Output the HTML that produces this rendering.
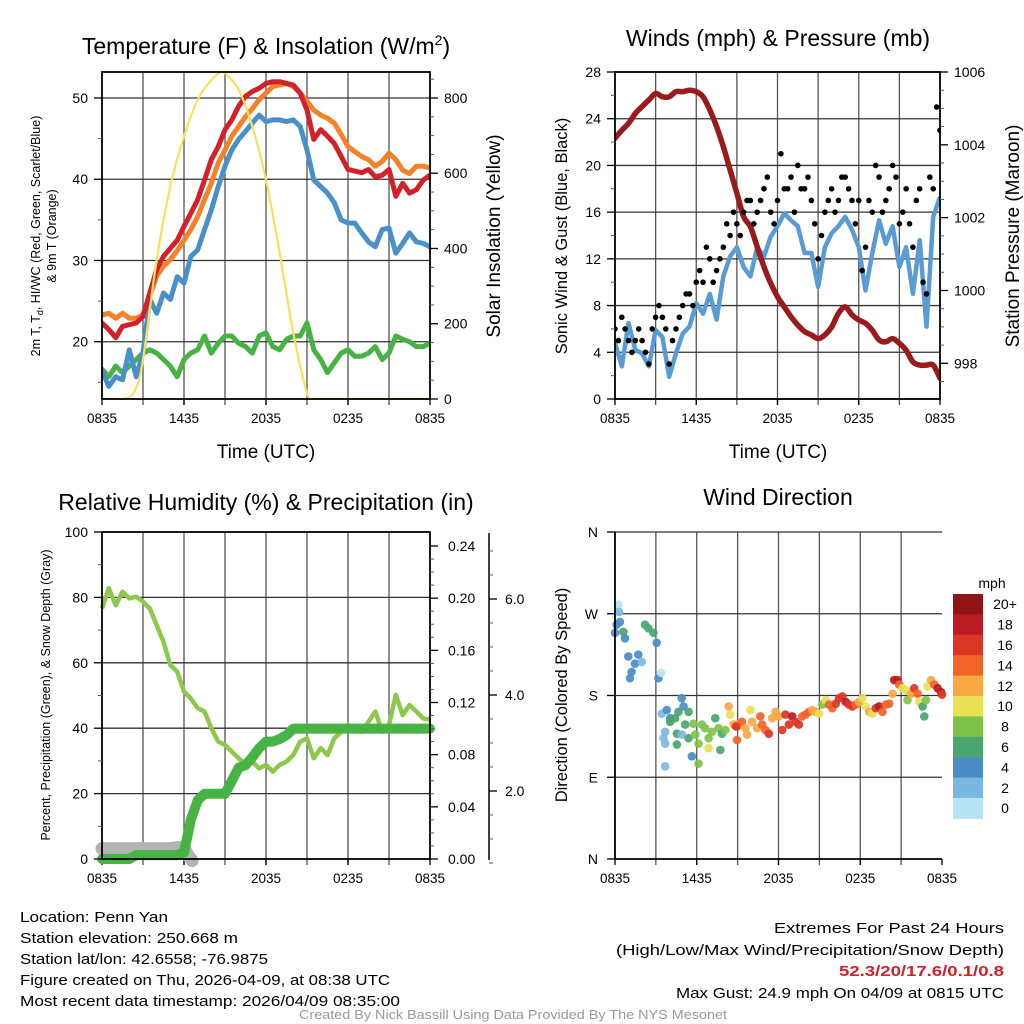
<!DOCTYPE html>
<html><head><meta charset="utf-8"><style>
html,body{margin:0;padding:0;background:#fff;}
svg{display:block;font-family:"Liberation Sans",sans-serif;}
</style></head><body>
<svg id="fig" width="1024" height="1024" viewBox="0 0 1024 1024" xmlns="http://www.w3.org/2000/svg">
<rect width="1024" height="1024" fill="#fff"/>
<g id="p1"></g>
<g id="p2"></g>
<g id="p3"></g>
<g id="p4"></g>
<g fill="#000">
<text x="266" y="54" font-size="23" text-anchor="middle">Temperature (F) &amp; Insolation (W/m<tspan font-size="14" dy="-9">2</tspan><tspan dy="9">)</tspan></text>
<text x="778" y="46" font-size="23" text-anchor="middle">Winds (mph) &amp; Pressure (mb)</text>
<text x="266" y="510" font-size="23" text-anchor="middle">Relative Humidity (%) &amp; Precipitation (in)</text>
<text x="778" y="505" font-size="23" text-anchor="middle">Wind Direction</text>
<text x="266" y="458" font-size="19" text-anchor="middle">Time (UTC)</text>
<text x="778" y="458" font-size="19" text-anchor="middle">Time (UTC)</text>
<text font-size="12.5" text-anchor="middle" transform="translate(40,236) rotate(-90)">2m T, T<tspan font-size="9" dy="3">d</tspan><tspan dy="-3">, HI/WC (Red, Green, Scarlet/Blue)</tspan></text>
<text font-size="12.5" text-anchor="middle" transform="translate(56,236) rotate(-90)">&amp; 9m T (Orange)</text>
<text font-size="19" text-anchor="middle" transform="translate(500,236) rotate(-90)">Solar Insolation (Yellow)</text>
<text font-size="16.5" text-anchor="middle" transform="translate(567,236) rotate(-90)">Sonic Wind &amp; Gust (Blue, Black)</text>
<text font-size="19" text-anchor="middle" transform="translate(1019,236) rotate(-90)">Station Pressure (Maroon)</text>
<text font-size="12.5" text-anchor="middle" transform="translate(50,695) rotate(-90)">Percent, Precipitation (Green), &amp; Snow Depth (Gray)</text>
<text font-size="16.5" text-anchor="middle" transform="translate(567,695) rotate(-90)">Direction (Colored By Speed)</text>
</g>
<g font-size="15" fill="#000">
<text x="20" y="922" textLength="148" lengthAdjust="spacingAndGlyphs">Location: Penn Yan</text>
<text x="20" y="943" textLength="218" lengthAdjust="spacingAndGlyphs">Station elevation: 250.668 m</text>
<text x="20" y="964" textLength="248" lengthAdjust="spacingAndGlyphs">Station lat/lon: 42.6558; -76.9875</text>
<text x="20" y="985" textLength="370" lengthAdjust="spacingAndGlyphs">Figure created on Thu, 2026-04-09, at 08:38 UTC</text>
<text x="20" y="1006" textLength="380" lengthAdjust="spacingAndGlyphs">Most recent data timestamp: 2026/04/09 08:35:00</text>
</g>
<g font-size="15" fill="#000">
<text x="1004" y="933" text-anchor="end" textLength="230" lengthAdjust="spacingAndGlyphs">Extremes For Past 24 Hours</text>
<text x="1004" y="955" text-anchor="end" textLength="388" lengthAdjust="spacingAndGlyphs">(High/Low/Max Wind/Precipitation/Snow Depth)</text>
<text x="1004" y="976" text-anchor="end" fill="#d0202a" font-weight="bold" textLength="165" lengthAdjust="spacingAndGlyphs">52.3/20/17.6/0.1/0.8</text>
<text x="1004" y="998" text-anchor="end" textLength="328" lengthAdjust="spacingAndGlyphs">Max Gust: 24.9 mph On 04/09 at 0815 UTC</text>
</g>
<text x="513" y="1019" font-size="12.5" fill="#999" text-anchor="middle" textLength="428" lengthAdjust="spacingAndGlyphs">Created By Nick Bassill Using Data Provided By The NYS Mesonet</text>
</svg>
<script>
// ---------- data (half-hourly, hours 0..24 from 0835 UTC) ----------
const timeTicks = ["0835","1435","2035","0235","0835"];
const tempRed = [22.3,21.5,20.5,21.9,22.1,22.3,23.1,26.0,28.9,30.5,31.5,32.5,34.2,35.8,37.5,39.9,42.4,44.0,46.1,47.3,49.0,50.2,50.8,51.2,51.8,52.0,52.0,51.8,51.6,50.6,48.5,44.9,46.1,45.3,44.4,42.8,41.2,41.0,40.8,41.2,40.3,40.5,41.2,37.9,39.5,38.3,38.7,39.9,40.5];
const temp9m = [23.3,23.5,22.9,23.5,22.9,22.9,23.3,25.6,28.1,29.3,30.1,31.2,32.5,33.8,35.4,37.5,39.5,42.0,43.6,45.3,46.5,47.7,48.7,49.8,50.6,51.4,51.6,51.8,51.4,50.6,49.6,48.5,47.9,47.5,46.9,45.5,44.0,43.4,42.8,42.4,41.6,42.2,43.2,42.4,41.1,40.7,41.6,41.6,41.4];
const tempHIWC = [16.4,14.5,15.7,15.3,19.0,15.7,18.6,25.2,23.5,26.0,25.2,28.0,27.2,30.5,31.3,33.8,36.2,39.1,41.6,43.6,44.9,45.9,46.9,47.9,47.1,47.3,47.3,47.1,47.3,46.5,43.6,39.9,39.1,38.3,37.1,35.0,34.6,34.6,33.4,32.3,31.7,33.8,34.0,30.9,32.1,33.4,32.3,32.1,31.7];
const dewpoint = [16.6,15.7,17.0,16.2,17.0,17.8,18.6,19.0,18.6,17.8,17.0,15.7,17.8,18.6,19.0,20.7,18.6,19.8,20.7,20.7,19.8,19.4,18.6,20.7,21.1,19.4,19.0,20.3,20.7,20.7,22.3,19.0,17.8,16.2,17.4,18.6,19.0,18.2,18.2,18.6,19.4,17.8,18.6,20.7,20.3,20.0,19.4,19.4,19.8];
const solarHours = [0,1,1.5,2,2.5,3,4,5,6,7,8,8.7,9,10,11,12,13,14,15,15.5,16,20,24];
const solar = [0,0,0,5,30,104,370,565,698,795,848,869,866,822,724,582,388,176,16,0,0,0,0];
const tempTicks = [20,30,40,50];
const solarTicks = [0,200,400,600,800];

const pressure = [1004.18,1004.4,1004.59,1004.86,1005.05,1005.23,1005.41,1005.32,1005.32,1005.46,1005.46,1005.5,1005.46,1005.32,1004.96,1004.5,1003.95,1003.31,1002.67,1002.03,1001.75,1001.2,1000.65,1000.2,999.83,999.55,999.28,999.05,998.87,998.78,998.68,998.78,999.0,999.37,999.55,999.33,999.19,999.1,998.91,998.64,998.59,998.68,998.55,998.36,998.04,997.95,997.95,997.95,997.59];
const sonicWind = [4.8,2.8,6.5,4.2,3.9,2.8,5.9,5.3,1.9,3.9,5.6,6.2,8.2,7.3,9.0,6.8,10.5,12.2,13.0,11.3,10.5,13.0,12.2,13.9,14.8,15.9,15.3,14.8,12.5,12.5,9.6,13.0,14.2,14.8,15.6,14.5,13.0,9.3,12.5,15.3,13.3,14.8,11.3,13.0,9.0,13.6,6.2,15.6,17.3];
const gustA = [6,7,5,5,5,3,7,7,3,6,8,9,10,10,12,11,13,14,15,16,17,16,18,16,17,18,19,20,18,17,12,16,18,17,19,17,17,13,16,19,17,20,15,18,13,18,9,18,23];
const gustB = [5,6,4,6,4,6,8,6,5,7,9,8,11,13,10,12,15,16,14,17,15,17,19,15,21,18,16,18,19,15,14,17,16,19,18,15,11,17,20,16,18,19,16,15,17,10,19,25];
const windTicks = [0,4,8,12,16,20,24,28];
const pressTicks = [998,1000,1002,1004,1006];

const humidity = [76.6,82.8,77.6,81.7,79.7,80.2,78.7,76.6,71.5,66.4,59.3,57.3,51.2,49.1,46.1,45.1,40.0,35.9,34.9,32.8,30.8,28.8,29.8,27.7,28.8,26.7,28.8,29.8,31.8,35.9,36.9,30.8,33.9,31.8,36.9,38.9,41.0,40.0,38.9,42.0,45.1,38.9,41.0,50.2,44.0,47.1,45.1,43.0,42.6];
const precip = [0,0,0,0,0,0.003,0.003,0.003,0.003,0.003,0.003,0.003,0.005,0.03,0.045,0.05,0.05,0.05,0.05,0.06,0.07,0.072,0.078,0.085,0.09,0.09,0.092,0.095,0.1,0.1,0.1,0.1,0.1,0.1,0.1,0.1,0.1,0.1,0.1,0.1,0.1,0.1,0.1,0.1,0.1,0.1,0.1,0.1,0.1];
const snowHours = [0,1,2,3,4,5,5.5,6,6.3,6.6];
const snowDepth = [0.8,0.8,0.8,0.8,0.8,0.8,0.82,0.82,0.65,0.55];
const rhTicks = [0,20,40,60,80,100];
const precipTicks = [0,0.04,0.08,0.12,0.16,0.20,0.24];
const snowTicks = [2,4,6];

const dirHours = [0.24,0.12,0.36,0.61,0.73,0.0,0.29,0.98,1.1,1.22,1.47,1.71,1.96,2.2,2.45,2.82,3.06,3.19,3.38,
3.43,3.8,4.05,4.41,4.66,5.03,5.4,5.76,5.15,4.54,3.68,3.56,3.68,4.54,4.9,5.4,5.89,6.13,6.38,6.62,6.87,7.11,7.36,7.6,7.85,8.1,7.73,6.87,6.13,5.64,3.68,4.05,4.9,
8.34,8.46,8.71,8.95,9.08,9.32,9.57,9.69,9.94,10.06,10.43,10.67,10.8,11.04,11.29,11.53,11.78,12.02,12.27,12.51,12.76,13.0,13.25,13.5,13.74,13.99,14.23,14.48,14.72,14.97,15.21,8.95,8.88,
15.46,15.7,15.95,16.2,16.44,16.68,16.93,17.17,17.42,17.67,17.91,18.16,18.4,18.65,18.89,19.14,19.38,19.63,19.88,20.12,20.37,
20.49,20.74,20.86,21.1,21.35,21.47,21.72,21.96,22.21,22.33,22.58,22.7,22.82,22.94,23.19,23.43,23.68,23.92,24.0];
const dirDegrees = [280,258,261,250,243,249,272,223,199,206,215,225,217,258,254,249,238,199,205,
160,164,155,155,162,168,162,149,148,138,140,133,127,126,137,133,137,127,148,144,133,140,155,144,138,142,120,122,105,113,102,151,177,
168,159,148,146,149,151,144,137,164,151,144,157,148,142,138,155,162,157,142,159,148,157,151,148,157,159,162,164,162,160,170,131,146,
175,170,166,171,177,179,173,170,168,170,173,177,168,162,160,166,168,162,170,171,182,
197,197,192,188,186,175,182,188,182,173,168,157,175,190,197,192,188,184,181];
const dirSpeeds = [1,4,4,6,4,4,2,4,4,4,4,4,2,6,6,6,4,4,1,
2,4,4,6,6,4,6,8,6,6,2,2,2,6,2,6,8,8,8,8,8,8,6,8,6,8,6,10,8,4,2,6,4,
12,10,12,16,12,14,12,12,10,12,12,14,14,14,16,12,12,12,16,16,16,18,16,16,14,14,14,12,12,10,8,14,16,
10,14,14,16,16,16,18,16,16,14,12,10,10,12,10,16,18,14,14,14,12,
18,18,14,10,10,8,12,16,14,10,6,6,8,10,12,14,18,18,16];
const dirLabels = ["N","E","S","W","N"];
const speedBins = ["0","2","4","6","8","10","12","14","16","18","20+"];
const speedColors = ["#b8e2f6","#7ab8e2","#4a8dc4","#4aa56f","#7ec24a","#e8e055","#f8a843","#f06428","#dc3526","#b81c22","#8f1418"];

// ---------- helpers ----------
const NS = "http://www.w3.org/2000/svg";
function mk(parent, tag, attrs){
  const e = document.createElementNS(NS, tag);
  for (const k in attrs) e.setAttribute(k, attrs[k]);
  parent.appendChild(e);
  return e;
}
function lin(d0,d1,r0,r1){ return v => r0 + (v-d0)/(d1-d0)*(r1-r0); }
function halfHours(n){ const a=[]; for(let i=0;i<n;i++) a.push(i*0.5); return a; }
function pathOf(xs, ys, xf, yf){
  let d=""; for(let i=0;i<xs.length;i++){ d += (i?"L":"M")+xf(xs[i]).toFixed(1)+","+yf(ys[i]).toFixed(1); } return d;
}
function smoothPath(xs, ys, xf, yf){
  const P = xs.map((x,i)=>[xf(x), yf(ys[i])]);
  let d = "M"+P[0][0]+","+P[0][1];
  for(let i=0;i<P.length-1;i++){
    const p0=P[Math.max(i-1,0)], p1=P[i], p2=P[i+1], p3=P[Math.min(i+2,P.length-1)];
    const c1=[p1[0]+(p2[0]-p0[0])/6, p1[1]+(p2[1]-p0[1])/6];
    const c2=[p2[0]-(p3[0]-p1[0])/6, p2[1]-(p3[1]-p1[1])/6];
    d += "C"+c1[0].toFixed(1)+","+c1[1].toFixed(1)+" "+c2[0].toFixed(1)+","+c2[1].toFixed(1)+" "+p2[0].toFixed(1)+","+p2[1].toFixed(1);
  }
  return d;
}
function frame(g, x0, x1, y0, y1, hTicksY, clipId){
  // vertical grid every 3 hours
  const xs = lin(0,24,x0,x1);
  for(let h=3; h<24; h+=3){
    const l = mk(g,"line",{x1:xs(h),x2:xs(h),y1:y0,y2:y1+6,stroke:"#555","stroke-width":1.3});
    
    
  }
  hTicksY.forEach(y=>{
    const l = mk(g,"line",{x1:x0,x2:x1,y1:y,y2:y,stroke:"#333","stroke-width":1.3});
    
    
  });
  const defs = mk(g,"defs",{});
  const cp = mk(defs,"clipPath",{id:clipId});
  mk(cp,"rect",{x:x0,y:y0,width:x1-x0,height:y1-y0});
  // x tick labels
  timeTicks.forEach((t,i)=>{
    const x = xs(i*6);
    const tk = mk(g,"line",{x1:x,x2:x,y1:y1,y2:y1+6,stroke:"#000","stroke-width":1.3});
    
    
    const tx = mk(g,"text",{x:x,y:y1+24,"font-size":13.5,"text-anchor":"middle"});
    tx.textContent = t;
    
    
  });
  return xs;
}
function axisTicks(g, x, ys, values, fmt, side, labelOffset, name, minorVals){
  const dir = side==="left" ? -1 : 1;
  (minorVals||[]).forEach(v=>{
    const y = ys(v);
    const t = mk(g,"line",{x1:x,x2:x+dir*4,y1:y,y2:y,stroke:"#555","stroke-width":1});
    
    
  });
  values.forEach(v=>{
    const y = ys(v);
    const t = mk(g,"line",{x1:x,x2:x+dir*8,y1:y,y2:y,stroke:"#000","stroke-width":1.3});
    
    
    const tx = mk(g,"text",{x:x+dir*labelOffset,y:y+5,"font-size":14,"text-anchor":side==="left"?"end":"start"});
    tx.textContent = fmt(v);
    
    
  });
}
function range(a,b,s){ const r=[]; for(let v=a; v<=b+1e-9; v+=s) r.push(+v.toFixed(4)); return r; }

// ---------- panel 1: temperature ----------
(function(){
  const g = document.getElementById("p1");
  const X0=102, X1=430, Y0=72, Y1=399;
  const yT = lin(12.95,53.2,Y1,Y0);
  const yS = lin(0,869,Y1,Y0);
  const xs = frame(g,X0,X1,Y0,Y1,tempTicks.map(yT),"c1");
  const hh = halfHours(49);
  const data = mk(g,"g",{"clip-path":"url(#c1)"});
  const series = [[dewpoint,"#46b344","dewpoint-line"],[tempHIWC,"#4a90c8","heat-index-windchill-line"],[temp9m,"#f5812a","temp-9m-line"],[tempRed,"#d42028","temp-2m-line"]];
  series.forEach(s=>{
    const p = mk(data,"path",{d:pathOf(hh,s[0],xs,yT),fill:"none",stroke:s[1],"stroke-width":5,"stroke-linejoin":"round","stroke-linecap":"round"});
    
    
  });
  const sp = mk(data,"path",{d:smoothPath(solarHours,solar,xs,yS),fill:"none",stroke:"#fbe15a","stroke-width":2.2});
  
  
  const fr = mk(g,"rect",{x:X0,y:Y0,width:X1-X0,height:Y1-Y0,fill:"none",stroke:"#000","stroke-width":1.8});
  
  
  axisTicks(g,X0,yT,tempTicks,v=>String(v),"left",14,"temp-axis",range(15,50,5).filter(v=>v%10));
  axisTicks(g,X1,yS,solarTicks,v=>String(v),"right",14,"solar-axis",range(50,850,50).filter(v=>v%200));
})();

// ---------- panel 2: winds ----------
(function(){
  const g = document.getElementById("p2");
  const X0=615, X1=940, Y0=72, Y1=399;
  const yW = lin(0,28,Y1,Y0);
  const yP = lin(997.02,1006,Y1,Y0);
  const xs = frame(g,X0,X1,Y0,Y1,windTicks.map(yW),"c2");
  const hh = halfHours(49);
  const data = mk(g,"g",{"clip-path":"url(#c2)"});
  const w = mk(data,"path",{d:pathOf(hh,sonicWind,xs,yW),fill:"none",stroke:"#5a9bd4","stroke-width":4.5,"stroke-linejoin":"round"});
  
  
  const p = mk(data,"path",{d:smoothPath(hh,pressure,xs,yP),fill:"none",stroke:"#9a1b1b","stroke-width":5.5,"stroke-linecap":"round"});
  
  
  gustA.forEach((v,i)=>{
    const c = mk(data,"circle",{cx:xs(i*0.5),cy:yW(v),r:2.8,fill:"#000"});
    
    
  });
  gustB.forEach((v,i)=>{
    const c = mk(data,"circle",{cx:xs(i*0.5+0.25),cy:yW(v),r:2.8,fill:"#000"});
    
    
  });
  const fr = mk(g,"rect",{x:X0,y:Y0,width:X1-X0,height:Y1-Y0,fill:"none",stroke:"#000","stroke-width":1.8});
  
  
  axisTicks(g,X0,yW,windTicks,v=>String(v),"left",14,"wind-axis",range(2,26,4));
  axisTicks(g,X1,yP,pressTicks,v=>String(v),"right",14,"pressure-axis",range(997.5,1005.5,0.5).filter(v=>Math.abs(v%2)>1e-6));
})();

// ---------- panel 3: humidity ----------
(function(){
  const g = document.getElementById("p3");
  const X0=102, X1=430, Y0=532, Y1=859;
  const yR = lin(0,100,Y1,Y0);
  const yPr = lin(0,0.24,Y1,546);
  const ySn = lin(0,6,887,599);
  const xs = frame(g,X0,X1,Y0,Y1,rhTicks.slice(1,5).map(yR),"c3");
  const hh = halfHours(49);
  const data = mk(g,"g",{});
  const sn = mk(data,"path",{d:pathOf(snowHours,snowDepth,xs,ySn),fill:"none",stroke:"#b3b3b3","stroke-width":13,"stroke-linecap":"round","stroke-linejoin":"round"});
  
  
  const rh = mk(data,"path",{d:pathOf(hh,humidity,xs,yR),fill:"none",stroke:"#8dc84c","stroke-width":4.5,"stroke-linejoin":"round"});
  
  
  const pr = mk(data,"path",{d:pathOf(hh,precip,xs,yPr),fill:"none",stroke:"#46b344","stroke-width":10,"stroke-linecap":"round","stroke-linejoin":"round"});
  
  
  const fr = mk(g,"rect",{x:X0,y:Y0,width:X1-X0,height:Y1-Y0,fill:"none",stroke:"#000","stroke-width":1.8});
  
  
  axisTicks(g,X0,yR,rhTicks,v=>String(v),"left",14,"humidity-axis",range(10,90,20));
  axisTicks(g,X1,yPr,precipTicks,v=>v.toFixed(2),"right",18,"precip-axis",range(0.01,0.23,0.01).filter(v=>Math.abs((v*100)%4)>1e-6));
  const sx = 489;
  const al = mk(g,"line",{x1:sx,x2:sx,y1:533,y2:860,stroke:"#000","stroke-width":1.5});
  
  
  axisTicks(g,sx,ySn,snowTicks,v=>v.toFixed(1),"right",16,"snow-axis",[0.5,1,1.5,2.5,3,3.5,4.5,5,5.5,6.5,7]);
})();

// ---------- panel 4: wind direction ----------
(function(){
  const g = document.getElementById("p4");
  const X0=615, X1=942, Y0=532, Y1=859;
  const yD = lin(0,360,Y1,Y0);
  const xs = frame(g,X0,X1,Y0,Y1,[90,180,270,360].map(yD),"c4");
  const data = mk(g,"g",{});
  dirHours.forEach((h,i)=>{
    const c = mk(data,"circle",{cx:xs(h),cy:yD(dirDegrees[i]),r:4.3,fill:speedColors[Math.min(Math.floor(dirSpeeds[i]/2),10)],"fill-opacity":0.92});
    
    
  });
  const ax = mk(g,"line",{x1:X0,x2:X0,y1:Y0,y2:Y1,stroke:"#000","stroke-width":1.8});
  
  
  const bx = mk(g,"line",{x1:X0,x2:X1,y1:Y1,y2:Y1,stroke:"#000","stroke-width":1.8});
  
  
  dirLabels.forEach((lab,i)=>{
    const y = yD(i*90);
    const t = mk(g,"line",{x1:X0,x2:X0-8,y1:y,y2:y,stroke:"#000","stroke-width":1.3});
    
    
    const tx = mk(g,"text",{x:X0-17,y:y+5,"font-size":14,"text-anchor":"end"});
    tx.textContent = lab;
    
    
  });
  // colorbar
  const cb = mk(g,"g",{});
  
  
  const title = mk(cb,"text",{x:992,y:588,"font-size":14,"text-anchor":"middle"});
  title.textContent = "mph";
  
  
  const top = 594, bh = 20.4;
  for(let i=0;i<speedBins.length;i++){
    const k = speedBins.length-1-i;
    const r = mk(cb,"rect",{x:953,y:top+i*bh,width:30,height:bh+0.5,fill:speedColors[k]});
    
    
    const t = mk(cb,"text",{x:1005,y:top+i*bh+bh/2+5,"font-size":14,"text-anchor":"middle"});
    t.textContent = speedBins[k];
    
    
  }
})();
</script>
</body></html>
